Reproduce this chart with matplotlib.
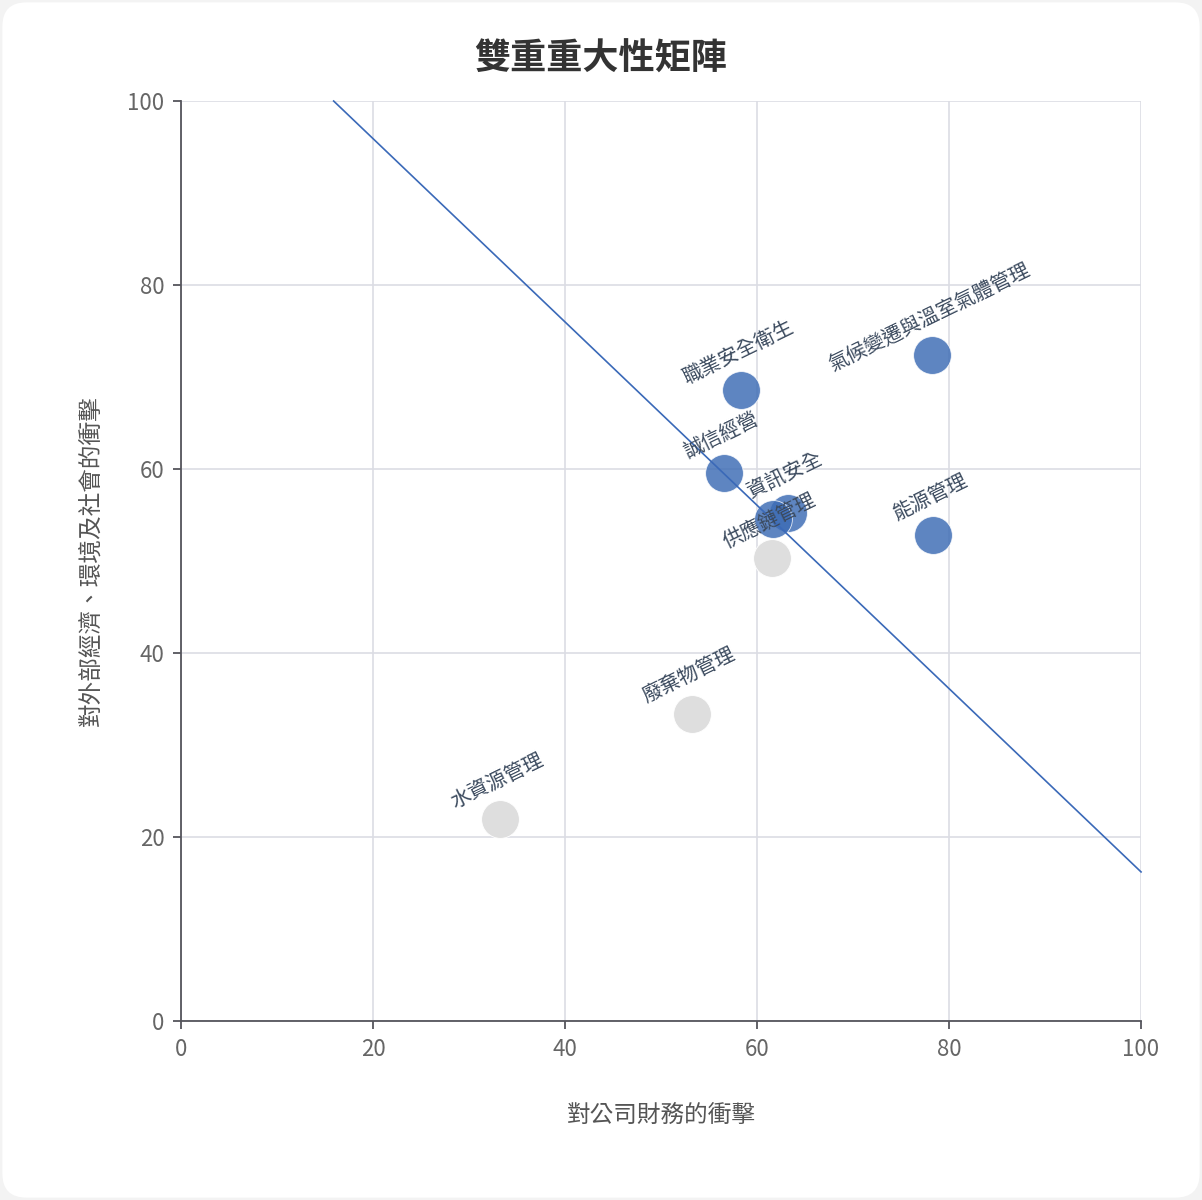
import matplotlib.pyplot as plt
from matplotlib.patches import FancyBboxPatch

plt.rcParams['font.family'] = ['Noto Sans CJK TC', 'DejaVu Sans']

# material topics: financial impact (x), external impact (y)
names = ['氣候變遷與溫室氣體管理', '職業安全衛生', '誠信經營', '資訊安全', '',
         '能源管理', '供應鏈管理', '廢棄物管理', '水資源管理']
fin_impact = [78.2, 58.3, 56.6, 63.2, 61.7, 78.3, 61.6, 53.2, 33.2]
ext_impact = [72.4, 68.6, 59.6, 55.2, 54.6, 52.8, 50.3, 33.4, 22.0]
material = [True, True, True, True, True, True, False, False, False]

# threshold line
line_x = [15.9, 100]
line_y = [100, 16.2]

blue = '#3d6cb5'
gray = '#dedede'

fig = plt.figure(figsize=(12.02, 12.0), dpi=100)
fig.patch.set_facecolor('#f3f3f3')
card = FancyBboxPatch((0.002, 0.002), 0.996, 0.996, boxstyle='round,pad=0,rounding_size=0.02',
                      transform=fig.transFigure, facecolor='white', edgecolor='none', zorder=-10)
fig.patches.append(card)

ax = fig.add_axes([0.1506, 0.1492, 0.7987, 0.7666])
ax.set_facecolor('none')
ax.set_xlim(0, 100)
ax.set_ylim(0, 100)
ax.set_xticks(range(0, 101, 20))
ax.set_yticks(range(0, 101, 20))
ax.grid(True, color='#dcdde4', linewidth=1.2, zorder=0)
ax.set_axisbelow(True)
for s in ['top', 'right']:
    ax.spines[s].set_visible(False)
for s in ['left', 'bottom']:
    ax.spines[s].set_color('#55555c')
    ax.spines[s].set_linewidth(1.3)
ax.tick_params(colors='#55555c', labelcolor='#666666', labelsize=16, length=6, width=1.3, pad=6)

for x, y, n, m in zip(fin_impact, ext_impact, names, material):
    ax.scatter(x, y, s=740, color=blue if m else gray, alpha=0.83 if m else 1.0,
               edgecolors='white', linewidths=0.6, zorder=3)
    if n:
        ax.annotate(n, (x, y), xytext=(-2, 27), textcoords='offset points',
                    ha='center', va='center', rotation=26, fontsize=14.5,
                    color='#3b4a5e', zorder=5)

ax.plot(line_x, line_y, color='#3a69b8', linewidth=1.2, zorder=4, clip_on=False)

ax.set_xlabel('對公司財務的衝擊', fontsize=17, color='#555555', labelpad=31)
ax.set_ylabel('對外部經濟、環境及社會的衝擊', fontsize=17, color='#555555', labelpad=18)
fig.text(0.5, 0.951, '雙重重大性矩陣', ha='center', va='center', fontsize=26,
         fontweight='bold', color='#333333')

fig.savefig('out.png', dpi=100, facecolor=fig.get_facecolor())
